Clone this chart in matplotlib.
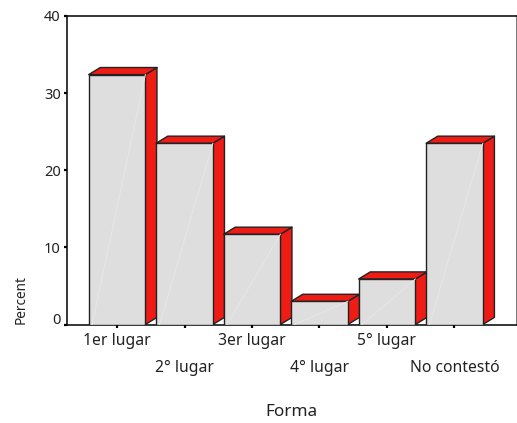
import matplotlib
matplotlib.use('Agg')
import matplotlib.pyplot as plt
from matplotlib.patches import Polygon
from matplotlib.transforms import ScaledTranslation

plt.rcParams['font.family'] = ['Noto Sans', 'DejaVu Sans']

categories = ['1er lugar', '2° lugar', '3er lugar', '4° lugar', '5° lugar', 'No contestó']
percent = [32.4, 23.5, 11.7, 3.0, 5.9, 23.5]
yticks = [0, 10, 20, 30, 40]

# look of the fake 3d bars
bar_w = 0.84
dx = 0.172
dy = 0.92
red = '#EE1C14'
grey = '#DEDEDE'
edge = '#222222'

fig = plt.figure(figsize=(5.17, 4.23), dpi=100)
ax = fig.add_axes([67 / 517, 1 - 324.5 / 423, 449.5 / 517, 308.5 / 423])

for i, v in enumerate(percent):
    left = i - bar_w / 2
    right = i + bar_w / 2
    # side and top first, front goes over them
    side = [(right, 0), (right + dx, dy), (right + dx, v + dy), (right, v)]
    top = [(left, v), (left + dx, v + dy), (right + dx, v + dy), (right, v)]
    ax.add_patch(Polygon(side, facecolor=red, edgecolor=edge, lw=1.0, joinstyle='round', zorder=2))
    ax.add_patch(Polygon(top, facecolor=red, edgecolor=edge, lw=1.0, joinstyle='round', zorder=2))
    ax.bar(i, v, width=bar_w, color=grey, edgecolor=edge, lw=1.0, zorder=3)
    # faint streak across the front
    ax.plot([left + 0.05, right], [0, v], color='#E6E6E6', lw=0.7, zorder=4)

ax.set_xlim(-0.741, 5.919)
ax.set_ylim(0, 40)

ax.set_xticks(range(len(categories)))
ax.set_xticklabels(categories, fontsize=11.3, color='#222222')
ax.set_yticks(yticks)
ax.set_yticklabels([str(t) for t in yticks], fontsize=10.5, color='#222222')
ax.tick_params(axis='both', length=2, width=1.6, color='black')
ax.tick_params(axis='y', pad=2.5)

# labels sit on two rows
for i, t in enumerate(ax.xaxis.get_major_ticks()):
    t.set_pad(4 if i % 2 == 0 else 23.5)

# the 0 label is pushed up off the axis
lab0 = ax.get_yticklabels()[0]
lab0.set_transform(lab0.get_transform() + ScaledTranslation(0, 6 / 100, fig.dpi_scale_trans))

for s in ax.spines.values():
    s.set_linewidth(1.1)
    s.set_color('black')
ax.spines['right'].set_color('#555555')

fig.text(21 / 517, 1 - 300 / 423, 'Percent', rotation=90, fontsize=9.8, color='#222222', ha='center', va='center')
fig.text(291 / 517, 1 - 412 / 423, 'Forma', fontsize=12.3, color='#222222', ha='center', va='center')

fig.savefig('out.png', dpi=100)
